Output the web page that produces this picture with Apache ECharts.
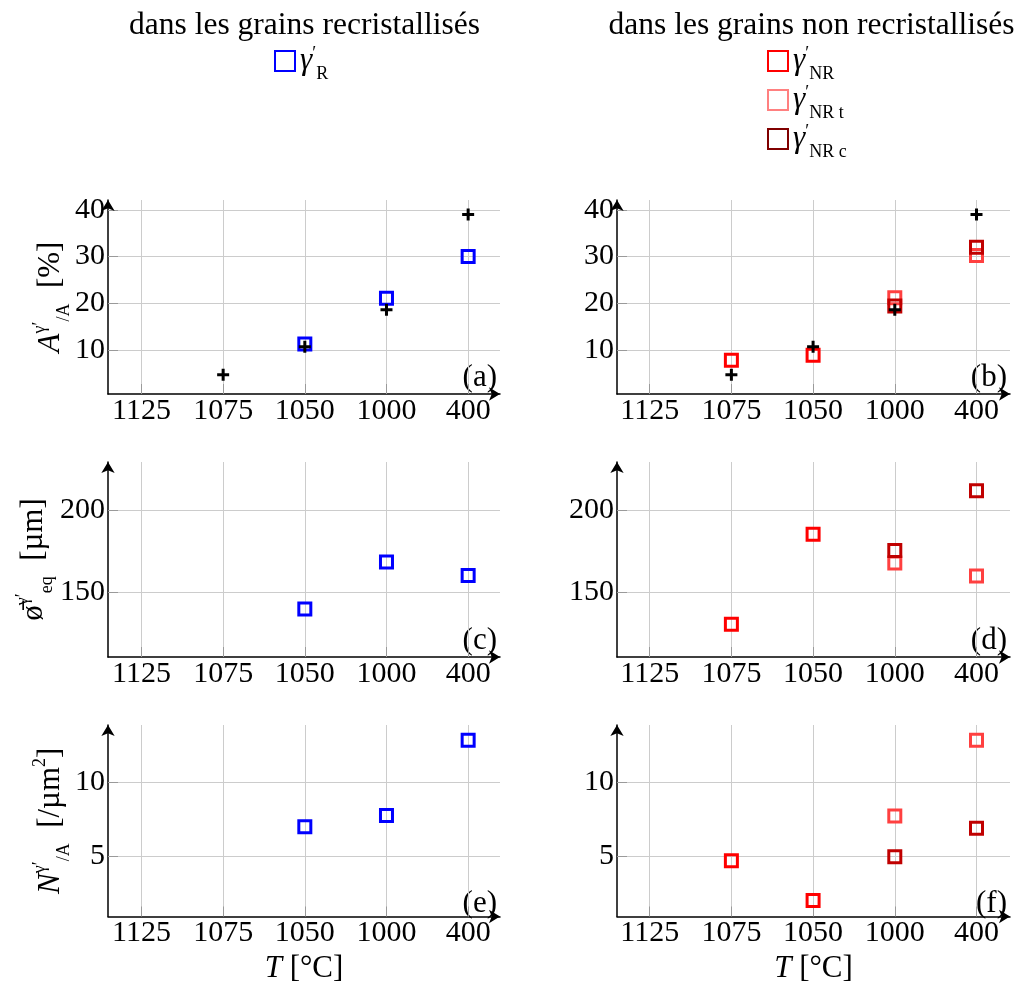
<!DOCTYPE html>
<html><head><meta charset="utf-8">
<script src="https://cdn.jsdelivr.net/npm/echarts@6/dist/echarts.min.js"></script>
<style>html,body{margin:0;padding:0;background:#fff}#c{width:1020px;height:985px}</style>
</head><body><div id="c"></div>
<script>
// ---------- data ----------
const categories = ['1125', '1075', '1050', '1000', '400'];
// (a)/(b) area fraction [%]
const areaTotal = [null, 4.7, 10.7, 18.6, 39.0];
const areaR     = [null, null, 11.3, 21.1, 30.0];
const areaNR    = [null, 7.8, 8.9, null, null];
const areaNRt   = [null, null, null, 21.2, 30.2];
const areaNRc   = [null, null, null, 19.4, 32.0];
// (c)/(d) mean equivalent diameter
const diamR   = [null, null, 139.5, 168.2, 160.0];
const diamNR  = [null, 130.2, 185.3, null, null];
const diamNRt = [null, null, null, 167.6, 159.7];
const diamNRc = [null, null, null, 175.3, 211.8];
// (e)/(f) number density [/um2]
const densR   = [null, null, 7.0, 7.75, 12.8];
const densNR  = [null, 4.72, 2.05, null, null];
const densNRt = [null, null, null, 7.72, 12.8];
const densNRc = [null, null, null, 4.98, 6.9];
// tick labels
const xTickIdx = [0, 1, 2, 3, 4];
const yTicksA = [10, 20, 30, 40];
const yTicksD = [150, 200];
const yTicksN = [5, 10];
const panelLetters = ['(a)', '(b)', '(c)', '(d)', '(e)', '(f)'];

// ---------- style / layout ----------
const SERIF = 'Liberation Serif';
const C_R = '#0000ff', C_NR = '#ff0000', C_NRT = '#ff4040', C_NRC = '#c00000';
const cols = [
  {left: 108, width: 392, xmin: -0.41, xmax: 4.39},
  {left: 617, width: 393, xmin: -0.40, xmax: 4.41}
];
const rows = [
  {top: 200, height: 194, ymin: 0.59, ymax: 42.1, ticks: yTicksA, nameGap: 35},
  {top: 462, height: 195, ymin: 110.2, ymax: 229.4, ticks: yTicksD, nameGap: 52},
  {top: 725, height: 195, ymin: 0.97, ymax: 13.83, ticks: yTicksN, nameGap: 35}
];
const yNames = [
  '{i|A}{sp|γ′}{sb|/A}{n|  [%]}',
  '{n|ø̄}{sp|γ′}{sb|eq}{n|  [µm]}',
  '{i|N}{sp|γ′}{sb|/A}{n|  [/µm}{sp|2}{n|]}'
];
const richCommon = {
  n:  {fontFamily: SERIF, fontSize: 31, lineHeight: 44, color: '#000'},
  i:  {fontFamily: SERIF, fontSize: 31, lineHeight: 44, fontStyle: 'italic', color: '#000'},
  sp: {fontFamily: SERIF, fontSize: 18, verticalAlign: 'top', padding: [2, 0, 0, 0], color: '#000'},
  sb: {fontFamily: SERIF, fontSize: 18, verticalAlign: 'bottom', color: '#000'},
  g:  {fontFamily: SERIF, fontSize: 31, lineHeight: 44, fontStyle: 'italic', color: '#000'},
  p:  {fontFamily: SERIF, fontSize: 18, verticalAlign: 'top', padding: [6, 0, 0, 0], color: '#000'},
  s:  {fontFamily: SERIF, fontSize: 18, verticalAlign: 'bottom', color: '#000'}
};

const grids = [], xAxes = [], yAxes = [], graphics = [];
rows.forEach((r, ri) => {
  cols.forEach((c, ci) => {
    const g = ri * 2 + ci;
    grids.push({left: c.left, top: r.top, width: c.width, height: r.height, containLabel: false});
    xAxes.push({
      gridIndex: g, type: 'value', min: c.xmin, max: c.xmax,
      axisLine: {show: true, onZero: false, lineStyle: {color: '#000', width: 1.5}, symbol: ['none', 'arrow'], symbolSize: [10, 11]},
      axisTick: {show: true, inside: true, length: 10, lineStyle: {color: '#9a9a9a', width: 1}, customValues: xTickIdx},
      axisLabel: {customValues: xTickIdx,
        formatter: v => (Number.isInteger(v) && categories[v] !== undefined) ? categories[v] : '',
        fontFamily: SERIF, fontSize: 30, color: '#000', margin: 2},
      splitLine: {show: true, lineStyle: {color: '#cccccc', width: 1}},
      name: ri === 2 ? '{i|T}{n| [°C]}' : '',
      nameLocation: 'middle', nameGap: 30, nameMoveOverlap: false,
      nameTextStyle: {rich: richCommon}
    });
    yAxes.push({
      gridIndex: g, type: 'value', min: r.ymin, max: r.ymax,
      axisLine: {show: true, onZero: false, lineStyle: {color: '#000', width: 1.5}, symbol: ['none', 'arrow'], symbolSize: [10, 11]},
      axisTick: {show: true, inside: true, length: 10, lineStyle: {color: '#9a9a9a', width: 1}, customValues: r.ticks},
      axisLabel: {customValues: r.ticks,
        formatter: v => (r.ticks.indexOf(v) >= 0 ? String(v) : ''),
        fontFamily: SERIF, fontSize: 30, color: '#000', margin: 3},
      splitLine: {show: true, lineStyle: {color: '#cccccc', width: 1}},
      name: ci === 0 ? yNames[ri] : '',
      nameLocation: 'middle', nameRotate: 90, nameGap: r.nameGap, nameMoveOverlap: false,
      nameTextStyle: {rich: richCommon}
    });
    graphics.push({
      type: 'text', x: c.left + c.width - 3, y: r.top + r.height - 16,
      style: {text: panelLetters[g], fontFamily: SERIF, fontSize: 31, fill: '#000', textAlign: 'right', textVerticalAlign: 'middle'}
    });
  });
});
graphics.push({type: 'text', x: 304.5, y: 26,
  style: {text: 'dans les grains recristallisés', fontFamily: SERIF, fontSize: 31.5, fill: '#000', textAlign: 'center', textVerticalAlign: 'middle'}});
graphics.push({type: 'text', x: 811.5, y: 26,
  style: {text: 'dans les grains non recristallisés', fontFamily: SERIF, fontSize: 31.5, fill: '#000', textAlign: 'center', textVerticalAlign: 'middle'}});

const toPts = arr => arr.map((v, i) => v == null ? null : [i, v]).filter(p => p);
const sq = (name, g, arr, color) => ({
  name, type: 'scatter', xAxisIndex: g, yAxisIndex: g, data: toPts(arr),
  symbol: 'rect', symbolSize: 12, silent: true,
  itemStyle: {color: 'rgba(0,0,0,0)', borderColor: color, borderWidth: 3, opacity: 1}
});
const cross = (g, arr) => ({
  name: 'total', type: 'scatter', xAxisIndex: g, yAxisIndex: g, data: toPts(arr),
  symbol: 'path://M4.5,0H7.5V12H4.5Z M0,4.5H12V7.5H0Z', symbolSize: 12, silent: true, z: 5,
  itemStyle: {color: '#000', opacity: 1}
});
const N_R = 'γ′R', N_NR = 'γ′NR', N_NRT = 'γ′NR t', N_NRC = 'γ′NR c';
const series = [
  sq(N_R, 0, areaR, C_R), cross(0, areaTotal),
  sq(N_NR, 1, areaNR, C_NR), sq(N_NRT, 1, areaNRt, C_NRT), sq(N_NRC, 1, areaNRc, C_NRC), cross(1, areaTotal),
  sq(N_R, 2, diamR, C_R),
  sq(N_NR, 3, diamNR, C_NR), sq(N_NRT, 3, diamNRt, C_NRT), sq(N_NRC, 3, diamNRc, C_NRC),
  sq(N_R, 4, densR, C_R),
  sq(N_NR, 5, densNR, C_NR), sq(N_NRT, 5, densNRt, C_NRT), sq(N_NRC, 5, densNRc, C_NRC)
];
const legendText = {};
legendText[N_R] = '{g|γ}{p|′}{s|R}';
legendText[N_NR] = '{g|γ}{p|′}{s|NR}';
legendText[N_NRT] = '{g|γ}{p|′}{s|NR t}';
legendText[N_NRC] = '{g|γ}{p|′}{s|NR c}';
const mkLegend = (name, color, left, top) => ({
  left, top, orient: 'vertical', selectedMode: false, itemWidth: 20, itemHeight: 20, padding: 0,
  data: [{name, icon: 'rect', itemStyle: {color: 'rgba(0,0,0,0)', borderColor: color, borderWidth: 2, opacity: 1}}],
  formatter: n => legendText[n],
  textStyle: {rich: richCommon}
});
const legends = [
  mkLegend(N_R, C_R, 274, 45),
  mkLegend(N_NR, '#ff0000', 767, 45),
  mkLegend(N_NRT, '#ff8080', 767, 84),
  mkLegend(N_NRC, '#800000', 767, 123)
];

const chart = echarts.init(document.getElementById('c'), null, {renderer: 'canvas'});
chart.setOption({
  animation: false,
  backgroundColor: '#ffffff',
  grid: grids, xAxis: xAxes, yAxis: yAxes,
  legend: legends,
  graphic: graphics,
  series
});
</script></body></html>
